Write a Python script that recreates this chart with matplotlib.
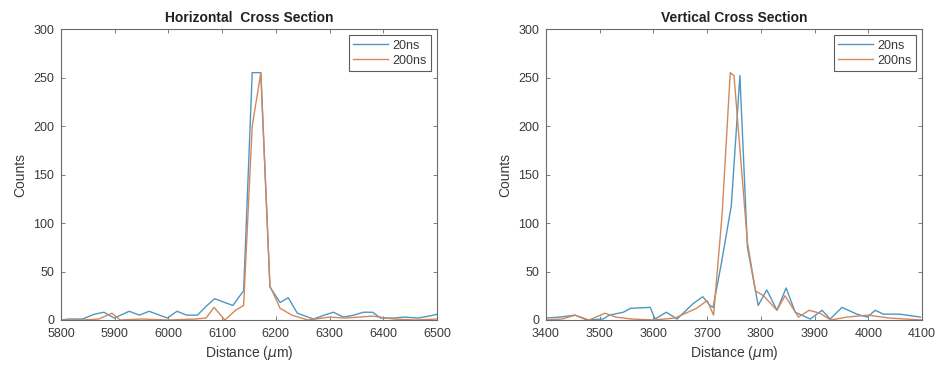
import matplotlib
matplotlib.use("Agg")
import matplotlib.pyplot as plt

plt.rcParams['font.family'] = ['Liberation Sans', 'DejaVu Sans']

# Horizontal cross section
h_x_20 = [5800, 5815, 5840, 5862, 5880, 5899, 5927, 5946, 5964, 5998, 6016, 6034, 6054, 6070,
          6086, 6105, 6120, 6133, 6140, 6156, 6172, 6189, 6208, 6223, 6240, 6270, 6290, 6307,
          6326, 6345, 6363, 6380, 6395, 6420, 6438, 6465, 6494, 6500]
h_y_20 = [0, 1, 1, 6, 8, 2, 9, 5, 9, 2, 9, 5, 5, 14,
          22, 18, 15, 25, 30, 255, 255, 34, 18, 23, 7, 1, 5, 8,
          3, 5, 8, 8, 2, 2, 3, 2, 5, 6]
h_x_200 = [5800, 5840, 5870, 5895, 5910, 5950, 6000, 6050, 6070, 6085, 6105, 6125, 6140,
           6156, 6172, 6189, 6208, 6230, 6260, 6300, 6330, 6380, 6420, 6460, 6500]
h_y_200 = [0, 0, 1, 7, 0, 1, 0, 1, 2, 13, 0, 10, 15,
           200, 255, 35, 12, 5, 0, 3, 2, 4, 1, 0, 1]

# Vertical cross section
v_x_20 = [3400, 3426, 3454, 3476, 3506, 3518, 3544, 3557, 3594, 3603, 3624, 3644, 3674, 3692,
          3705, 3711, 3727, 3745, 3761, 3775, 3795, 3811, 3830, 3847, 3864, 3892, 3914, 3929,
          3951, 3979, 3998, 4013, 4028, 4059, 4097]
v_y_20 = [2, 3, 5, 0, 1, 5, 8, 12, 13, 1, 8, 1, 17, 24,
          15, 13, 60, 118, 252, 75, 15, 31, 10, 33, 8, 1, 10, 1,
          13, 6, 3, 10, 6, 6, 3]
v_x_200 = [3400, 3430, 3454, 3480, 3510, 3530, 3560, 3600, 3640, 3680, 3700, 3712, 3728,
           3743, 3750, 3775, 3790, 3805, 3830, 3845, 3870, 3890, 3910, 3930, 3960, 4000,
           4040, 4100]
v_y_200 = [0, 1, 5, 0, 7, 3, 1, 0, 2, 12, 20, 5, 110,
           255, 252, 80, 30, 25, 10, 25, 3, 10, 7, 0, 3, 5,
           2, 0]

labels = ['20ns', '200ns']
titles = ['Horizontal  Cross Section', 'Vertical Cross Section']
c20 = '#4f97c0'
c200 = '#d4875c'
txt = '#3a3a3a'
axc = '#6a6a6a'

fig = plt.figure(figsize=(9.42, 3.69), dpi=100)
ax1 = fig.add_axes([61/942, 1-320/369, 376/942, 291/369])
ax2 = fig.add_axes([546/942, 1-320/369, 376/942, 291/369])

panels = [
    (ax1, h_x_20, h_y_20, h_x_200, h_y_200, (5800, 6500), range(5800, 6501, 100)),
    (ax2, v_x_20, v_y_20, v_x_200, v_y_200, (3400, 4100), range(3400, 4101, 100)),
]
for i, (ax, x1, y1, x2, y2, xl, xt) in enumerate(panels):
    ax.plot(x1, y1, color=c20, lw=1.0, label=labels[0])
    ax.plot(x2, y2, color=c200, lw=1.0, label=labels[1])
    ax.set_xlim(*xl)
    ax.set_ylim(0, 300)
    ax.set_xticks(list(xt))
    ax.set_yticks(range(0, 301, 50))
    ax.tick_params(direction='in', top=True, right=True, length=3, width=0.6,
                   colors=axc, labelcolor=txt, labelsize=9)
    ax.tick_params(axis='x', pad=6)
    ax.tick_params(axis='y', pad=5)
    for s in ax.spines.values():
        s.set_color(axc)
        s.set_linewidth(0.8)
    ax.set_xlabel('Distance ($\\mu$m)', fontsize=10, color=txt, labelpad=3)
    ax.set_ylabel('Counts', fontsize=10, color=txt, labelpad=4)
    ax.set_title(titles[i], fontsize=10, fontweight='bold', color='#222222', pad=5)
    leg = ax.legend(loc='upper right', fontsize=9, frameon=True, fancybox=False,
                    borderaxespad=0.5, handlelength=2.8, handletextpad=0.3,
                    borderpad=0.35, labelspacing=0.25)
    leg.get_frame().set_edgecolor('#333333')
    leg.get_frame().set_linewidth(0.8)
    for t in leg.get_texts():
        t.set_color(txt)

fig.savefig('out.png', dpi=100)
